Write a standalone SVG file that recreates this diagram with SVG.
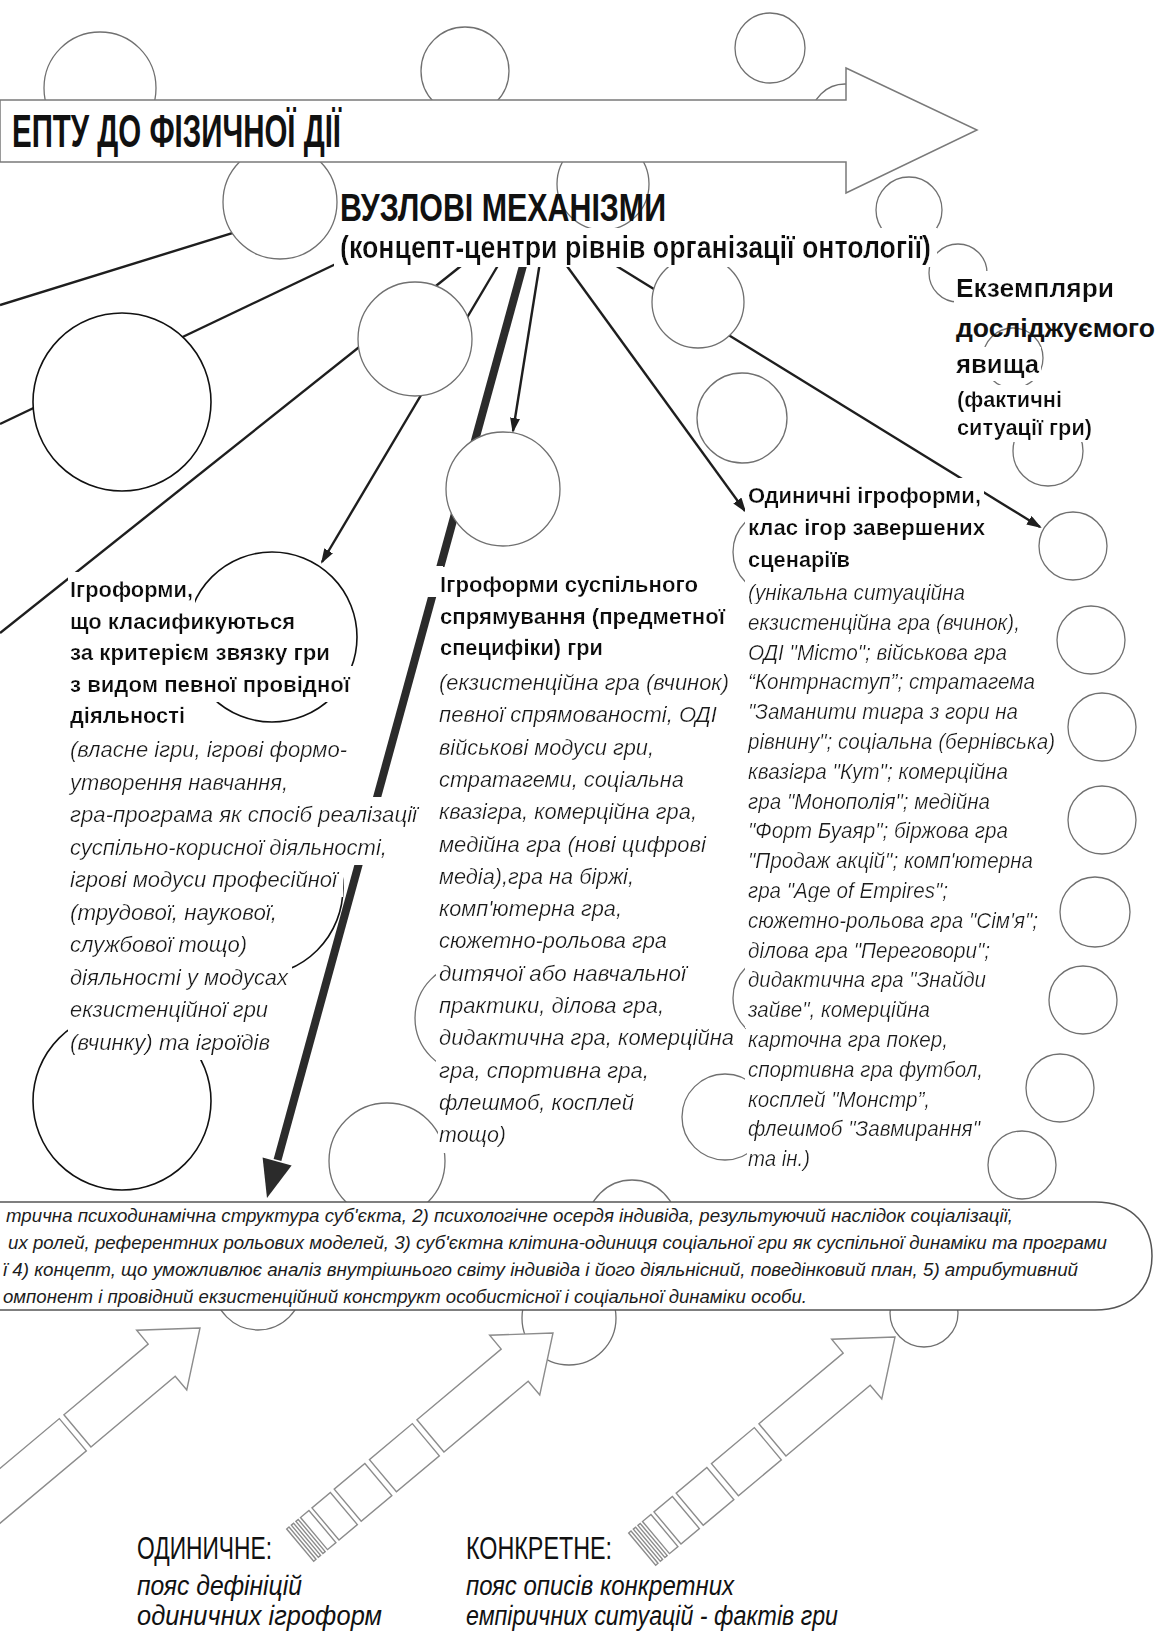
<svg xmlns="http://www.w3.org/2000/svg" width="1156" height="1633" viewBox="0 0 1156 1633">
<defs>
<style>
.c{fill:#fff;stroke:#707070;stroke-width:1.3}
.cb{fill:#fff;stroke:#111;stroke-width:1.6}
.ln{stroke:#1e1e1e;stroke-width:2.4;fill:none}
.ba{fill:#fff;stroke:#8c8c8c;stroke-width:1.4}
.f{font-family:"Liberation Sans",Arial,sans-serif;fill:#111}
.hd{font-weight:bold;font-size:22px}
.it{font-style:italic;font-size:22px;fill:#1c1c1c}
.bt{font-style:italic;font-size:18.5px;fill:#1c1c1c}
.nd text{filter:url(#bg)}
.tg text{filter:url(#bg2)}
</style>
<filter id="bg" x="-0.01" y="-0.2" width="1.02" height="1.4"><feFlood flood-color="#ffffff"/><feComposite in="SourceGraphic"/></filter>
<filter id="bg2" x="-0.01" y="-0.05" width="1.02" height="1.1"><feFlood flood-color="#ffffff"/><feComposite in="SourceGraphic"/></filter>
<marker id="ah" markerUnits="userSpaceOnUse" markerWidth="15" markerHeight="10" refX="13" refY="5" orient="auto"><path d="M0,0 L15,5 L0,10 z" fill="#1e1e1e"/></marker>
<g id="seg-arrow">
<polygon class="ba" points="0,0 -50,-39 -50,-21 -160,-21 -160,21 -50,21 -50,39"/>
<rect class="ba" x="-222" y="-21" width="56" height="42"/>
<rect class="ba" x="-268" y="-21" width="40" height="42"/>
<rect class="ba" x="-297" y="-21" width="24" height="42"/>
<rect class="ba" x="-312" y="-21" width="11" height="42"/>
<rect class="ba" x="-318" y="-21" width="3" height="42"/>
<rect class="ba" x="-324" y="-21" width="3" height="42"/>
<rect class="ba" x="-330" y="-21" width="3" height="42"/>
</g>
</defs>
<rect width="1156" height="1633" fill="#fff"/>

<g id="connectors">
<line class="ln" x1="0" y1="305" x2="336" y2="201"/>
<line class="ln" x1="0" y1="424" x2="340" y2="262"/>
<line class="ln" x1="0" y1="633" x2="466" y2="262"/>
<line class="ln" x1="500" y1="262" x2="322" y2="562" marker-end="url(#ah)"/>
<line class="ln" x1="540" y1="262" x2="513" y2="431" marker-end="url(#ah)"/>
<line class="ln" x1="564" y1="262" x2="745" y2="511" marker-end="url(#ah)"/>
<line class="ln" x1="610" y1="262" x2="1040" y2="527" marker-end="url(#ah)"/>
<line x1="524" y1="262" x2="277.5" y2="1160" stroke="#2b2b2b" stroke-width="8"/>
<polygon points="267,1198 291.6,1165.4 262.6,1157.4" fill="#2b2b2b"/>
</g>

<g id="circles">
<circle class="c" cx="100" cy="88" r="56"/>
<circle class="c" cx="465" cy="71" r="44"/>
<circle class="c" cx="770" cy="48" r="35"/>
<circle class="c" cx="845" cy="118" r="34"/>
<circle class="c" cx="280" cy="202" r="57"/>
<circle class="c" cx="603" cy="184" r="46"/>
<circle class="c" cx="909" cy="210" r="33"/>
<circle class="c" cx="958" cy="273" r="29"/>
<circle class="c" cx="1013" cy="358" r="30"/>
<circle class="c" cx="1048" cy="451" r="35"/>
<circle class="c" cx="1073" cy="546" r="34"/>
<circle class="c" cx="1091" cy="640" r="34"/>
<circle class="c" cx="1102" cy="727" r="34"/>
<circle class="c" cx="1102" cy="820" r="34"/>
<circle class="c" cx="1095" cy="912" r="35"/>
<circle class="c" cx="1083" cy="1000" r="34"/>
<circle class="c" cx="1060" cy="1088" r="34"/>
<circle class="c" cx="1022" cy="1165" r="34"/>
<circle class="c" cx="415" cy="339" r="57"/>
<circle class="c" cx="503" cy="489" r="57"/>
<circle class="c" cx="698" cy="302" r="46"/>
<circle class="c" cx="742" cy="418" r="45"/>
<circle class="c" cx="775" cy="552" r="42"/>
<circle class="c" cx="775" cy="998" r="42"/>
<circle class="c" cx="725" cy="1117" r="43"/>
<circle class="c" cx="470" cy="1018" r="55"/>
<circle class="c" cx="387" cy="1161" r="58"/>
<circle class="c" cx="632" cy="1225" r="45"/>
<circle class="c" cx="258" cy="1286" r="44"/>
<circle class="c" cx="569" cy="1318" r="47"/>
<circle class="c" cx="924" cy="1313" r="34"/>
<circle class="cb" cx="122" cy="402" r="89"/>
<circle class="cb" cx="272" cy="637" r="85"/>
<circle class="cb" cx="255" cy="888" r="88"/>
<circle class="cb" cx="122" cy="1101" r="89"/>
</g>

<g id="banner-top">
<polygon points="0,100 846,100 846,68 977,130 846,193 846,162 0,162" fill="#fff" stroke="#7a7a7a" stroke-width="1.5"/>
<text class="f" x="12" y="147" font-size="46" font-weight="bold" textLength="329" lengthAdjust="spacingAndGlyphs">ЕПТУ ДО ФІЗИЧНОЇ ДІЇ</text>
</g>

<g id="banner-bottom">
<path d="M0,1202 H1095 C1135,1202 1152,1228 1152,1256 C1152,1284 1135,1310 1095,1310 H0" fill="#fff" stroke="#555" stroke-width="1.5"/>
<text class="f bt" x="6" y="1222" textLength="1007" lengthAdjust="spacingAndGlyphs">трична психодинамічна структура суб'єкта, 2) психологічне осердя індивіда, результуючий наслідок соціалізації,</text>
<text class="f bt" x="8" y="1249" textLength="1099" lengthAdjust="spacingAndGlyphs">их ролей, референтних рольових моделей, 3) суб'єктна клітина-одиниця соціальної гри як суспільної динаміки та програми</text>
<text class="f bt" x="3" y="1276" textLength="1075" lengthAdjust="spacingAndGlyphs">ї 4) концепт, що уможливлює аналіз внутрішнього світу індивіда і його діяльнісний, поведінковий план, 5) атрибутивний</text>
<text class="f bt" x="3" y="1303" textLength="804" lengthAdjust="spacingAndGlyphs">омпонент і провідний екзистенційний конструкт особистісної і соціальної динаміки особи.</text>
</g>

<g id="bottom-arrows">
<g transform="translate(200,1328) rotate(-40)">
<polygon class="ba" points="0,0 -50,-39 -50,-21 -160,-21 -160,21 -50,21 -50,39"/>
<rect class="ba" x="-440" y="-21" width="274" height="42"/>
</g>
<use href="#seg-arrow" transform="translate(553,1333) rotate(-40)"/>
<use href="#seg-arrow" transform="translate(895,1337) rotate(-40)"/>
</g>

<g id="node-title" class="tg">
<text class="f" x="340" y="258" font-size="31" font-weight="bold" textLength="591" lengthAdjust="spacingAndGlyphs">(концепт-центри рівнів організації онтології)</text>
<text class="f" x="340" y="221" font-size="38" font-weight="bold" textLength="326" lengthAdjust="spacingAndGlyphs" style="filter:none">ВУЗЛОВІ МЕХАНІЗМИ</text>
</g>

<g id="node-instances" class="tg">
<text class="f" x="956" y="297" font-size="26" font-weight="bold" textLength="158" lengthAdjust="spacingAndGlyphs">Екземпляри</text>
<text class="f" x="956" y="337" font-size="26" font-weight="bold" textLength="199" lengthAdjust="spacingAndGlyphs" style="filter:none">досліджуємого</text>
<text class="f" x="956" y="373" font-size="26" font-weight="bold" textLength="83" lengthAdjust="spacingAndGlyphs">явища</text>
<text class="f hd" x="957" y="407" textLength="105" lengthAdjust="spacingAndGlyphs">(фактичні</text>
<text class="f hd" x="957" y="435" textLength="135" lengthAdjust="spacingAndGlyphs">ситуації гри)</text>
</g>

<g id="node-1" class="nd">
<text class="f hd" x="70" y="597" textLength="123" lengthAdjust="spacingAndGlyphs">Ігроформи,</text>
<text class="f hd" x="70" y="628.5" textLength="225" lengthAdjust="spacingAndGlyphs">що класификуються</text>
<text class="f hd" x="70" y="660" textLength="260" lengthAdjust="spacingAndGlyphs">за критерієм звязку гри</text>
<text class="f hd" x="70" y="691.5" textLength="280" lengthAdjust="spacingAndGlyphs">з видом певної провідної</text>
<text class="f hd" x="70" y="723" textLength="115" lengthAdjust="spacingAndGlyphs">діяльності</text>
<text class="f it" x="70" y="757" textLength="277" lengthAdjust="spacingAndGlyphs">(власне ігри, ігрові формо-</text>
<text class="f it" x="70" y="789.5" textLength="218" lengthAdjust="spacingAndGlyphs">утворення навчання,</text>
<text class="f it" x="70" y="822" textLength="347" lengthAdjust="spacingAndGlyphs">гра-програма як спосіб реалізації</text>
<text class="f it" x="70" y="854.5" textLength="317" lengthAdjust="spacingAndGlyphs">суспільно-корисної діяльності,</text>
<text class="f it" x="70" y="887" textLength="267" lengthAdjust="spacingAndGlyphs">ігрові модуси професійної</text>
<text class="f it" x="70" y="919.5" textLength="207" lengthAdjust="spacingAndGlyphs">(трудової, наукової,</text>
<text class="f it" x="70" y="952" textLength="177" lengthAdjust="spacingAndGlyphs">службової тощо)</text>
<text class="f it" x="70" y="984.5" textLength="218" lengthAdjust="spacingAndGlyphs">діяльності у модусах</text>
<text class="f it" x="70" y="1017" textLength="198" lengthAdjust="spacingAndGlyphs">екзистенційної гри</text>
<text class="f it" x="70" y="1049.5" textLength="200" lengthAdjust="spacingAndGlyphs">(вчинку) та ігроїдів</text>
</g>

<g id="node-2" class="nd">
<rect x="427" y="566" width="16" height="31" fill="#fff"/>
<text class="f hd" x="440" y="592" textLength="258" lengthAdjust="spacingAndGlyphs">Ігроформи суспільного</text>
<text class="f hd" x="440" y="623.5" textLength="285" lengthAdjust="spacingAndGlyphs">спрямування (предметної</text>
<text class="f hd" x="440" y="655" textLength="163" lengthAdjust="spacingAndGlyphs">специфіки) гри</text>
<text class="f it" x="439" y="690" textLength="290" lengthAdjust="spacingAndGlyphs">(екзистенційна гра (вчинок)</text>
<text class="f it" x="439" y="722.3" textLength="278" lengthAdjust="spacingAndGlyphs">певної спрямованості, ОДІ</text>
<text class="f it" x="439" y="754.6" textLength="215" lengthAdjust="spacingAndGlyphs">військові модуси гри,</text>
<text class="f it" x="439" y="786.9" textLength="245" lengthAdjust="spacingAndGlyphs">стратагеми, соціальна</text>
<text class="f it" x="439" y="819.2" textLength="258" lengthAdjust="spacingAndGlyphs">квазігра, комерційна гра,</text>
<text class="f it" x="439" y="851.5" textLength="267" lengthAdjust="spacingAndGlyphs">медійна гра (нові цифрові</text>
<text class="f it" x="439" y="883.8" textLength="195" lengthAdjust="spacingAndGlyphs">медіа),гра на біржі,</text>
<text class="f it" x="439" y="916.1" textLength="183" lengthAdjust="spacingAndGlyphs">комп'ютерна гра,</text>
<text class="f it" x="439" y="948.4" textLength="228" lengthAdjust="spacingAndGlyphs">сюжетно-рольова гра</text>
<text class="f it" x="439" y="980.7" textLength="247" lengthAdjust="spacingAndGlyphs">дитячої або навчальної</text>
<text class="f it" x="439" y="1013" textLength="225" lengthAdjust="spacingAndGlyphs">практики, ділова гра,</text>
<text class="f it" x="439" y="1045.3" textLength="295" lengthAdjust="spacingAndGlyphs">дидактична гра, комерційна</text>
<text class="f it" x="439" y="1077.6" textLength="210" lengthAdjust="spacingAndGlyphs">гра, спортивна гра,</text>
<text class="f it" x="439" y="1109.9" textLength="195" lengthAdjust="spacingAndGlyphs">флешмоб, косплей</text>
<text class="f it" x="439" y="1142.2" textLength="67" lengthAdjust="spacingAndGlyphs">тощо)</text>
</g>

<g id="node-3" class="nd">
<text class="f hd" x="748" y="503" textLength="233" lengthAdjust="spacingAndGlyphs">Одиничні ігроформи,</text>
<text class="f hd" x="748" y="535" textLength="237" lengthAdjust="spacingAndGlyphs">клас ігор завершених</text>
<text class="f hd" x="748" y="567" textLength="102" lengthAdjust="spacingAndGlyphs">сценаріїв</text>
<text class="f it" x="748" y="600" textLength="217" lengthAdjust="spacingAndGlyphs">(унікальна ситуаційна</text>
<text class="f it" x="748" y="629.8" textLength="272" lengthAdjust="spacingAndGlyphs">екзистенційна гра (вчинок),</text>
<text class="f it" x="748" y="659.6" textLength="259" lengthAdjust="spacingAndGlyphs">ОДІ "Місто"; військова гра</text>
<text class="f it" x="748" y="689.4" textLength="287" lengthAdjust="spacingAndGlyphs">“Контрнаступ”; стратагема</text>
<text class="f it" x="748" y="719.2" textLength="270" lengthAdjust="spacingAndGlyphs">"Заманити тигра з гори на</text>
<text class="f it" x="748" y="749" textLength="307" lengthAdjust="spacingAndGlyphs">рівнину"; соціальна (бернівська)</text>
<text class="f it" x="748" y="778.8" textLength="260" lengthAdjust="spacingAndGlyphs">квазігра "Кут"; комерційна</text>
<text class="f it" x="748" y="808.6" textLength="242" lengthAdjust="spacingAndGlyphs">гра "Монополія"; медійна</text>
<text class="f it" x="748" y="838.4" textLength="260" lengthAdjust="spacingAndGlyphs">"Форт Буаяр"; біржова гра</text>
<text class="f it" x="748" y="868.2" textLength="285" lengthAdjust="spacingAndGlyphs">"Продаж акцій"; комп'ютерна</text>
<text class="f it" x="748" y="898" textLength="200" lengthAdjust="spacingAndGlyphs">гра "Age of Empires";</text>
<text class="f it" x="748" y="927.8" textLength="290" lengthAdjust="spacingAndGlyphs">сюжетно-рольова гра "Сім'я";</text>
<text class="f it" x="748" y="957.6" textLength="242" lengthAdjust="spacingAndGlyphs">ділова гра "Переговори";</text>
<text class="f it" x="748" y="987.4" textLength="238" lengthAdjust="spacingAndGlyphs">дидактична гра "Знайди</text>
<text class="f it" x="748" y="1017.2" textLength="182" lengthAdjust="spacingAndGlyphs">зайве", комерційна</text>
<text class="f it" x="748" y="1047" textLength="200" lengthAdjust="spacingAndGlyphs">карточна гра покер,</text>
<text class="f it" x="748" y="1076.8" textLength="235" lengthAdjust="spacingAndGlyphs">спортивна гра футбол,</text>
<text class="f it" x="748" y="1106.6" textLength="182" lengthAdjust="spacingAndGlyphs">косплей "Монстр”,</text>
<text class="f it" x="748" y="1136.4" textLength="232" lengthAdjust="spacingAndGlyphs">флешмоб "Завмирання"</text>
<text class="f it" x="748" y="1166.2" textLength="62" lengthAdjust="spacingAndGlyphs">та ін.)</text>
</g>

<g id="label-odynychne">
<text class="f" x="137" y="1559" font-size="31" textLength="135" lengthAdjust="spacingAndGlyphs">ОДИНИЧНЕ:</text>
<text class="f" x="137" y="1595" font-size="27" font-style="italic" textLength="165" lengthAdjust="spacingAndGlyphs">пояс дефініцій</text>
<text class="f" x="137" y="1625" font-size="27" font-style="italic" textLength="245" lengthAdjust="spacingAndGlyphs">одиничних ігроформ</text>
</g>

<g id="label-konkretne">
<text class="f" x="466" y="1559" font-size="31" textLength="146" lengthAdjust="spacingAndGlyphs">КОНКРЕТНЕ:</text>
<text class="f" x="466" y="1595" font-size="27" font-style="italic" textLength="268" lengthAdjust="spacingAndGlyphs">пояс описів конкретних</text>
<text class="f" x="466" y="1625" font-size="27" font-style="italic" textLength="372" lengthAdjust="spacingAndGlyphs">емпіричних ситуацій - фактів гри</text>
</g>
</svg>
